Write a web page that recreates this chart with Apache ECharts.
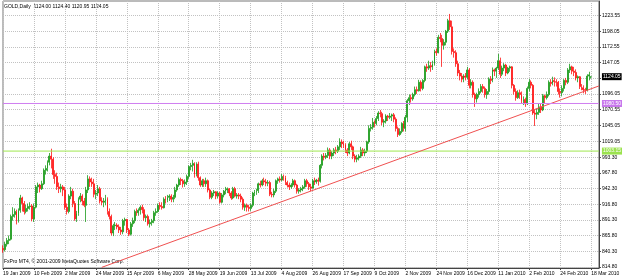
<!DOCTYPE html>
<html>
<head>
<meta charset="utf-8">
<script src="https://cdn.jsdelivr.net/npm/echarts@6/dist/echarts.min.js"></script>
<style>
  html, body { margin: 0; padding: 0; background: #fff; }
  #chart { width: 625px; height: 278px; }
</style>
</head>
<body>
<div id="chart"></div>
<script>
  // date labels under the chart, one every 16 bars
  const xLabels = ['19 Jan 2009', '10 Feb 2009', '2 Mar 2009', '24 Mar 2009', '15 Apr 2009',
    '6 May 2009', '28 May 2009', '19 Jun 2009', '13 Jul 2009', '4 Aug 2009', '26 Aug 2009',
    '17 Sep 2009', '9 Oct 2009', '2 Nov 2009', '24 Nov 2009', '16 Dec 2009', '11 Jan 2010',
    '2 Feb 2010', '24 Feb 2010', '18 Mar 2010']

  // price scale ticks (1121.55 sits under the last price box)
  const yTicks = [814.80, 840.30, 865.80, 891.30, 916.80, 942.30, 967.80, 993.30, 1019.05,
    1045.05, 1070.55, 1096.05, 1121.55, 1147.05, 1172.55, 1198.05, 1223.55]
  const hiddenTick = 1121.55

  // horizontal levels and last price
  const levelGreen = 1003.15
  const levelPurple = 1080.50
  const lastPrice = 1124.05
  // trend line: [bar, price] points
  const trendLine = [[51, 814.2], [308, 1109]]

  // daily bars: [open, close, low, high]
  const ohlc = [
    // 19 Jan 2009
    [845, 843, 838, 850], [843, 852, 840, 856], [852, 858, 848, 862], [858, 860, 852, 866],
    [860, 897, 858, 900], [897, 900, 890, 912], [900, 905, 895, 910], [905, 890, 884, 908],
    [890, 907, 887, 910], [907, 927, 903, 932], [927, 918, 905, 929], [918, 905, 900, 922],
    [905, 910, 902, 916], [910, 913, 905, 918], [913, 914, 908, 920], [914, 893, 889, 917],
    // 10 Feb 2009
    [893, 912, 888, 918], [912, 945, 910, 948], [945, 948, 935, 952], [948, 942, 936, 950],
    [942, 950, 940, 955], [950, 972, 948, 975], [972, 975, 965, 980], [975, 985, 970, 988],
    [985, 995, 980, 1000], [995, 990, 975, 1007], [990, 965, 958, 993], [965, 962, 950, 972],
    [962, 945, 940, 968], [945, 942, 935, 952], [942, 945, 936, 950], [945, 940, 930, 948],
    // 2 Mar 2009
    [940, 912, 908, 945], [912, 905, 900, 918], [905, 930, 902, 933], [930, 938, 925, 945],
    [938, 918, 912, 942], [918, 893, 890, 922], [893, 902, 888, 906], [902, 925, 898, 928],
    [925, 930, 920, 935], [930, 922, 915, 933], [922, 915, 912, 927], [915, 940, 888, 945],
    [940, 958, 935, 964], [958, 953, 945, 962], [953, 950, 945, 960], [950, 933, 928, 958],
    // 24 Mar 2009
    [933, 935, 925, 940], [935, 942, 930, 948], [942, 922, 918, 945], [922, 920, 915, 928],
    [920, 922, 912, 927], [922, 925, 915, 932], [925, 905, 900, 928], [905, 897, 892, 910],
    [897, 870, 866, 900], [870, 882, 865, 885], [882, 883, 875, 888], [883, 880, 876, 886],
    [880, 875, 870, 884], [875, 872, 867, 880], [872, 890, 868, 893], [890, 892, 882, 895],
    // 15 Apr 2009
    [892, 875, 870, 893], [875, 868, 865, 878], [868, 885, 866, 888], [885, 890, 880, 895],
    [890, 905, 886, 908], [905, 903, 898, 910], [903, 907, 898, 910], [907, 912, 900, 915],
    [912, 908, 902, 916], [908, 895, 890, 912], [895, 897, 888, 900], [897, 885, 882, 900],
    [885, 887, 879, 892], [887, 890, 882, 893], [890, 903, 886, 906], [903, 905, 898, 910],
    // 6 May 2009
    [905, 915, 903, 918], [915, 913, 908, 920], [913, 911, 908, 920], [911, 925, 910, 928],
    [925, 923, 918, 930], [923, 928, 920, 932], [928, 930, 922, 933], [930, 925, 920, 933],
    [925, 928, 920, 932], [928, 940, 925, 945], [940, 948, 937, 950], [948, 957, 945, 960],
    [957, 955, 948, 960], [955, 950, 944, 958], [950, 953, 945, 957], [953, 962, 948, 965],
    // 28 May 2009
    [962, 978, 958, 980], [978, 980, 972, 984], [980, 983, 970, 989], [983, 965, 960, 985],
    [965, 982, 962, 985], [982, 960, 955, 986], [960, 948, 945, 962], [948, 955, 945, 958],
    [955, 950, 945, 958], [950, 955, 945, 960], [955, 940, 936, 957], [940, 928, 925, 942],
    [928, 935, 925, 938], [935, 937, 930, 940], [937, 930, 925, 938], [930, 935, 926, 938],
    // 19 Jun 2009
    [935, 920, 918, 937], [920, 932, 918, 935], [932, 938, 928, 940], [938, 940, 933, 945],
    [940, 942, 935, 944], [942, 935, 930, 943], [935, 927, 924, 938], [927, 942, 925, 945],
    [942, 930, 928, 945], [930, 932, 926, 935], [932, 930, 925, 935], [930, 925, 920, 934],
    [925, 912, 908, 928], [912, 915, 906, 918], [915, 912, 905, 918], [912, 910, 905, 916],
    // 13 Jul 2009
    [910, 915, 906, 918], [915, 935, 912, 937], [935, 937, 930, 940], [937, 939, 932, 942],
    [939, 950, 935, 952], [950, 948, 944, 955], [948, 955, 946, 958], [955, 953, 948, 960],
    [953, 951, 946, 958], [951, 952, 946, 956], [952, 933, 930, 955], [933, 932, 928, 937],
    [932, 938, 928, 942], [938, 955, 935, 957], [955, 958, 950, 960], [958, 956, 952, 962],
    // 4 Aug 2009
    [956, 962, 954, 966], [962, 960, 955, 965], [960, 952, 948, 963], [952, 948, 944, 955],
    [948, 945, 940, 952], [945, 948, 942, 951], [948, 955, 945, 958], [955, 948, 944, 957],
    [948, 938, 934, 950], [938, 940, 934, 943], [940, 942, 936, 945], [942, 945, 938, 948],
    [945, 955, 942, 958], [955, 950, 945, 958], [950, 945, 940, 953], [945, 943, 938, 950],
    // 26 Aug 2009
    [943, 955, 942, 958], [955, 953, 948, 960], [953, 956, 950, 958], [956, 954, 947, 960],
    [954, 980, 952, 982], [980, 995, 975, 998], [995, 993, 988, 1000], [993, 996, 990, 1000],
    [996, 1005, 992, 1009], [1005, 995, 990, 1008], [995, 1000, 990, 1003], [1000, 1005, 995, 1008],
    [1005, 1003, 998, 1010], [1003, 1010, 1000, 1013], [1010, 1018, 1005, 1024], [1018, 1015, 1008, 1022],
    // 17 Sep 2009
    [1015, 1013, 1008, 1020], [1013, 1005, 1000, 1016], [1005, 1000, 995, 1008], [1000, 1015, 998, 1018],
    [1015, 1010, 1005, 1020], [1010, 995, 990, 1012], [995, 990, 985, 998], [990, 992, 985, 997],
    [992, 995, 988, 998], [995, 1005, 992, 1010], [1005, 1000, 995, 1008], [1000, 1003, 995, 1007],
    [1003, 1018, 1000, 1020], [1018, 1040, 1015, 1045], [1040, 1042, 1035, 1047], [1042, 1050, 1038, 1057],
    // 9 Oct 2009
    [1050, 1048, 1042, 1053], [1048, 1056, 1045, 1060], [1056, 1065, 1052, 1068], [1065, 1064, 1058, 1070],
    [1064, 1050, 1045, 1067], [1050, 1052, 1042, 1055], [1052, 1060, 1048, 1063], [1060, 1058, 1052, 1062],
    [1058, 1060, 1055, 1065], [1060, 1062, 1052, 1064], [1062, 1055, 1050, 1065], [1055, 1040, 1035, 1058],
    [1040, 1030, 1026, 1043], [1030, 1035, 1028, 1040], [1035, 1048, 1032, 1050], [1048, 1040, 1035, 1052],
    // 2 Nov 2009
    [1040, 1058, 1035, 1062], [1058, 1085, 1050, 1088], [1085, 1090, 1078, 1095], [1090, 1088, 1082, 1095],
    [1088, 1095, 1085, 1098], [1095, 1103, 1092, 1108], [1103, 1101, 1096, 1108], [1101, 1115, 1100, 1119],
    [1115, 1105, 1100, 1118], [1105, 1118, 1102, 1120], [1118, 1140, 1115, 1142], [1140, 1138, 1132, 1145],
    [1138, 1142, 1135, 1150], [1142, 1140, 1132, 1148], [1140, 1145, 1135, 1150], [1145, 1165, 1142, 1168],
    // 24 Nov 2009
    [1165, 1163, 1158, 1170], [1163, 1188, 1162, 1192], [1188, 1186, 1180, 1195], [1186, 1175, 1140, 1192],
    [1175, 1180, 1168, 1185], [1180, 1198, 1175, 1200], [1198, 1215, 1195, 1218], [1215, 1205, 1200, 1226],
    [1205, 1165, 1160, 1215], [1165, 1163, 1155, 1170], [1163, 1145, 1140, 1167], [1145, 1130, 1125, 1150],
    [1130, 1125, 1118, 1135], [1125, 1120, 1115, 1130], [1120, 1125, 1115, 1128], [1125, 1123, 1118, 1130],
    // 16 Dec 2009
    [1123, 1135, 1120, 1140], [1135, 1110, 1105, 1138], [1110, 1115, 1105, 1120], [1115, 1095, 1090, 1118],
    [1095, 1088, 1075, 1098], [1088, 1095, 1082, 1098], [1095, 1100, 1090, 1105], [1100, 1108, 1097, 1112],
    [1108, 1105, 1098, 1112], [1105, 1095, 1090, 1108], [1095, 1100, 1088, 1104], [1100, 1120, 1095, 1123],
    [1120, 1118, 1112, 1125], [1118, 1135, 1115, 1139], [1135, 1133, 1125, 1137], [1133, 1138, 1122, 1140],
    // 11 Jan 2010
    [1138, 1150, 1135, 1161], [1150, 1128, 1122, 1155], [1128, 1138, 1125, 1142], [1138, 1143, 1133, 1146],
    [1143, 1130, 1125, 1145], [1130, 1138, 1128, 1140], [1138, 1140, 1132, 1142], [1140, 1110, 1105, 1141],
    [1110, 1100, 1095, 1112], [1100, 1090, 1085, 1105], [1090, 1098, 1088, 1102], [1098, 1095, 1088, 1103],
    [1095, 1085, 1080, 1100], [1085, 1087, 1078, 1092], [1087, 1080, 1075, 1090], [1080, 1105, 1078, 1108],
    // 2 Feb 2010
    [1105, 1115, 1100, 1120], [1115, 1110, 1105, 1118], [1110, 1065, 1062, 1112], [1065, 1063, 1044, 1070],
    [1063, 1066, 1055, 1072], [1066, 1075, 1062, 1080], [1075, 1070, 1065, 1080], [1070, 1093, 1068, 1096],
    [1093, 1090, 1080, 1095], [1090, 1095, 1087, 1100], [1095, 1115, 1092, 1118], [1115, 1113, 1108, 1120],
    [1113, 1118, 1110, 1124], [1118, 1116, 1108, 1123], [1116, 1115, 1108, 1120], [1115, 1100, 1095, 1117],
    // 24 Feb 2010
    [1100, 1098, 1090, 1105], [1098, 1105, 1092, 1110], [1105, 1118, 1100, 1120], [1118, 1115, 1110, 1122],
    [1115, 1135, 1112, 1138], [1135, 1140, 1130, 1145], [1140, 1133, 1128, 1142], [1133, 1131, 1125, 1140],
    [1131, 1122, 1118, 1136], [1122, 1124, 1115, 1126], [1124, 1108, 1104, 1125], [1108, 1106, 1102, 1112],
    [1106, 1103, 1097, 1110], [1103, 1102, 1096, 1106], [1102, 1125, 1100, 1128], [1125, 1127, 1118, 1132],
    // 18 Mar 2010
    [1124.00, 1124.05, 1120.95, 1124.40]
  ]

  const shift = 4   // empty bars between the last candle and the price scale
  const cats = []
  for (let i = 0; i < ohlc.length + shift; i++) cats.push(String(i))
  const lastCat = cats[cats.length - 1]

  const bull = '#1a9a1a'
  const bear = '#ff1414'
  const purple = '#d080f0'
  const font = 'Liberation Sans'
  const gridLine = { color: '#c2c2c2', type: 'dotted', width: 1 }

  const chart = echarts.init(document.getElementById('chart'), null, { renderer: 'canvas' })

  // flat line across the whole chart for a horizontal level
  function levelSeries(value, color) {
    const data = cats.map(() => null)
    data[0] = value
    data[cats.length - 1] = value
    return {
      type: 'line',
      data: data,
      connectNulls: true,
      showSymbol: false,
      symbol: 'none',
      silent: true,
      z: 4,
      itemStyle: { color: color },
      lineStyle: { color: color, width: 1, opacity: 1 }
    }
  }

  const option = {
    animation: false,
    backgroundColor: '#fff',
    textStyle: { fontFamily: font },
    grid: {
      left: 1, right: 18, top: 1, bottom: 10,
      show: true, borderColor: '#777', borderWidth: 1
    },
    xAxis: {
      type: 'category',
      data: cats,
      boundaryGap: false,
      axisLine: { lineStyle: { color: '#444', width: 1 } },
      axisTick: { interval: 15, length: 2, lineStyle: { color: '#444' } },
      axisLabel: {
        interval: 15,
        align: 'left',
        margin: 3,
        fontSize: 5,
        color: '#000',
        formatter: (v, i) => xLabels[i / 16] || ''
      },
      splitLine: { show: true, interval: 15, lineStyle: gridLine }
    },
    yAxis: {
      type: 'value',
      position: 'right',
      min: 813.2,
      max: 1247,
      axisLine: { show: true, lineStyle: { color: '#444', width: 1 } },
      axisTick: { show: true, length: 2, customValues: yTicks, lineStyle: { color: '#444' } },
      axisLabel: {
        margin: 3,
        fontSize: 5,
        color: '#000',
        customValues: yTicks.filter(v => v !== hiddenTick).concat([levelGreen, levelPurple, lastPrice]),
        formatter: v => {
          const s = v.toFixed(2)
          if (v === lastPrice) return '{cur|' + s + '}'
          if (v === levelPurple) return '{pur|' + s + '}'
          if (v === levelGreen) return '{grn|' + s + '}'
          return s
        },
        rich: {
          cur: { backgroundColor: '#000', color: '#fff', fontSize: 5, padding: [1, 1] },
          pur: { backgroundColor: '#c878ec', color: '#fff', fontSize: 5, padding: [1, 1] },
          grn: { backgroundColor: '#9be24e', color: '#fff', fontSize: 5, padding: [1, 1] }
        }
      },
      splitLine: { show: true, lineStyle: gridLine }
    },
    graphic: [
      {
        type: 'text', left: 4, top: 4,
        style: { text: 'GOLD,Daily  1124.00 1124.40 1120.95 1124.05', fontSize: 5, fontFamily: font, fill: '#000' }
      },
      {
        type: 'text', left: 4, top: 259,
        style: { text: 'FxPro MT4, © 2001-2009 MetaQuotes Software Corp.', fontSize: 5, fontFamily: font, fill: '#000' }
      }
    ],
    series: [
      levelSeries(levelPurple, purple),
      levelSeries(levelGreen, '#a0e850'),
      {
        type: 'candlestick',
        data: ohlc,
        barWidth: 1.4,
        z: 3,
        itemStyle: {
          color: bull, color0: bear,
          borderColor: bull, borderColor0: bear,
          borderColorDoji: bull,
          borderWidth: 0.8
        },
        markLine: {
          silent: true,
          symbol: 'none',
          z: 6,
          label: { show: false },
          lineStyle: { color: '#f05050', width: 1, type: 'solid' },
          data: [
            [
              { coord: [String(trendLine[0][0]), trendLine[0][1]] },
              { coord: [String(trendLine[1][0]), trendLine[1][1]] }
            ],
            [
              { coord: ['0', levelPurple], lineStyle: { color: purple, width: 1, type: 'solid' } },
              { coord: [lastCat, levelPurple] }
            ]
          ]
        }
      }
    ]
  }

  chart.setOption(option)
</script>
</body>
</html>
